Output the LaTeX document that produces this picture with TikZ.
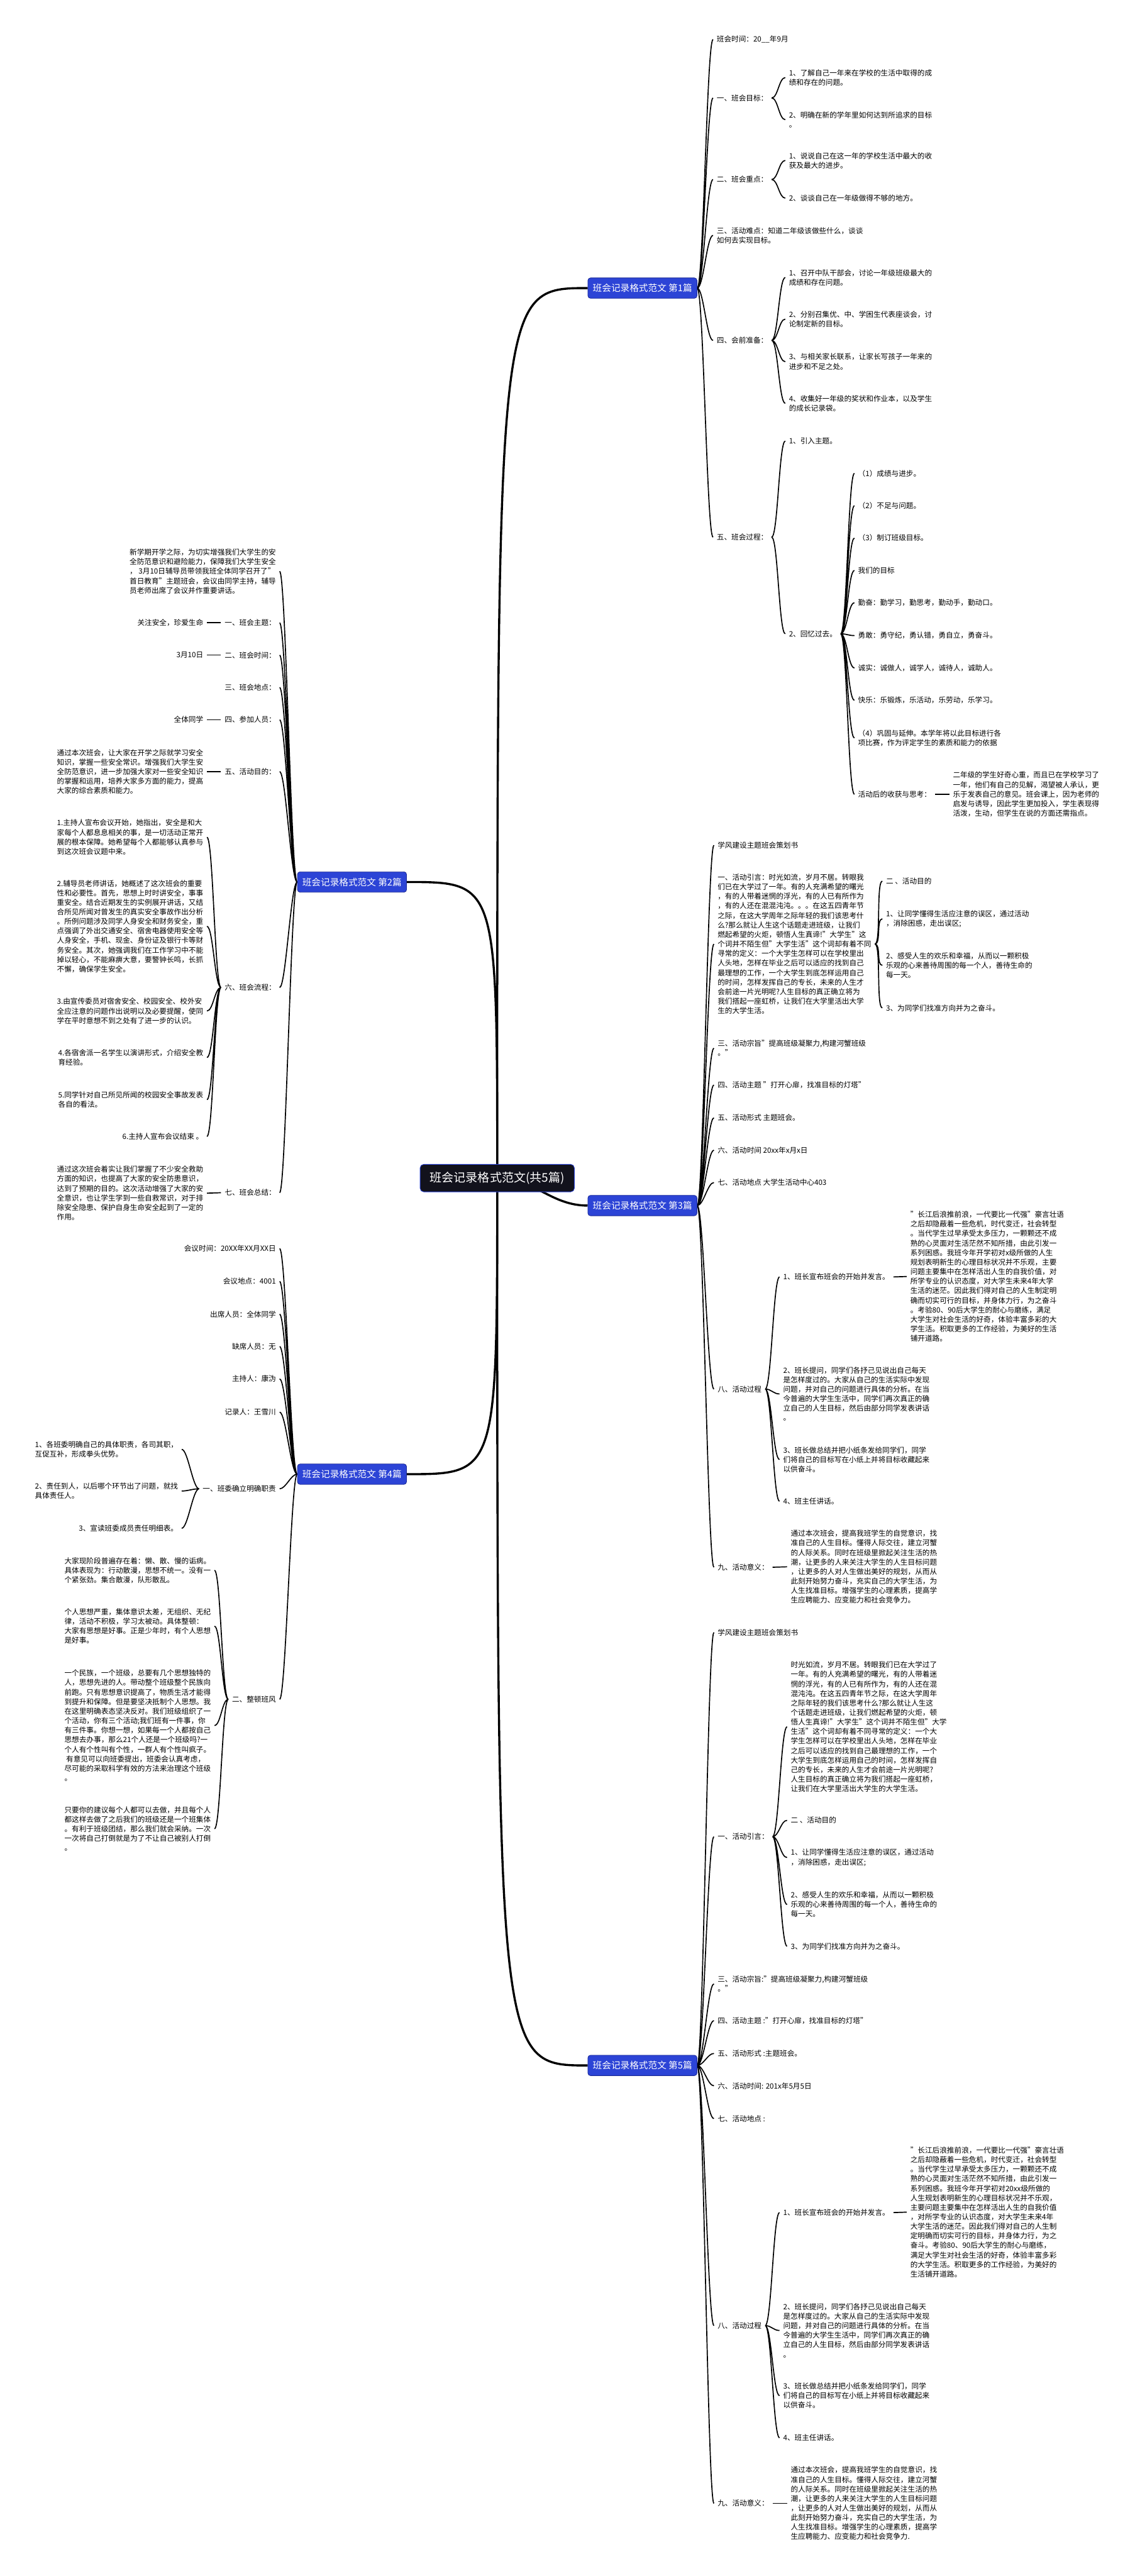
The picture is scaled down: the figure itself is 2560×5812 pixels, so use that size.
\documentclass[tikz,border=0pt]{standalone}
\usepackage{fontspec}
\setmainfont{Noto Sans CJK SC}
\usetikzlibrary{backgrounds}
\definecolor{topicblue}{RGB}{44,68,214}
\definecolor{topicedge}{RGB}{28,42,150}
\definecolor{rootfill}{RGB}{18,18,28}
\begin{document}
\begin{tikzpicture}[x=0.5pt, y=-0.5pt, line join=round, line cap=round,
  txt/.style={inner xsep=4pt, inner ysep=1pt, align=left, font=\fontsize{8.25}{10.75}\selectfont},
  rt/.style={txt, anchor=west},
  lt/.style={txt, anchor=east},
  topic/.style={fill=topicblue, draw=topicedge, line width=0.6pt, rounded corners=3pt, text=white,
    font=\fontsize{10.4}{12}\selectfont, inner xsep=5.5pt, minimum height=23pt},
  root/.style={fill=rootfill, draw=topicblue, line width=0.6pt, rounded corners=4pt, text=white,
    font=\fontsize{13.5}{15}\selectfont, minimum height=31pt, minimum width=174pt},
  trunk/.style={line width=2.4pt},
  br/.style={line width=1.2pt},
  rlink/.style={to path={.. controls ([xshift=7pt]\tikztostart) and ([xshift=-7pt]\tikztotarget) .. (\tikztotarget)}},
  llink/.style={to path={.. controls ([xshift=-7pt]\tikztostart) and ([xshift=7pt]\tikztotarget) .. (\tikztotarget)}}]
\useasboundingbox (0,0) rectangle (2560,5812);

\node[root] (root) at (1122,2658) {班会记录格式范文(共5篇)};

\node[topic, anchor=west] (b1) at (1326,650) {班会记录格式范文 第1篇};
\node[rt] (b1t) at (1609,89) {班会时间：20\_\_年9月};
\node[rt] (b1g) at (1609,221) {一、班会目标：};
\node[rt] (b1g1) at (1772,175) {1、了解自己一年来在学校的生活中取得的成\\绩和存在的问题。};
\node[rt] (b1g2) at (1772,270) {2、明确在新的学年里如何达到所追求的目标\\。};
\node[rt] (b1k) at (1609,405) {二、班会重点：};
\node[rt] (b1k1) at (1772,362) {1、说说自己在这一年的学校生活中最大的收\\获及最大的进步。};
\node[rt] (b1k2) at (1772,447) {2、谈谈自己在一年级做得不够的地方。};
\node[rt] (b1d) at (1609,531) {三、活动难点：知道二年级该做些什么，谈谈\\如何去实现目标。};
\node[rt] (b1p) at (1609,768) {四、会前准备：};
\node[rt] (b1p1) at (1772,626) {1、召开中队干部会，讨论一年级班级最大的\\成绩和存在问题。};
\node[rt] (b1p2) at (1772,720) {2、分别召集优、中、学困生代表座谈会，讨\\论制定新的目标。};
\node[rt] (b1p3) at (1772,816) {3、与相关家长联系，让家长写孩子一年来的\\进步和不足之处。};
\node[rt] (b1p4) at (1772,910) {4、收集好一年级的奖状和作业本，以及学生\\的成长记录袋。};
\node[rt] (b1c) at (1609,1212) {五、班会过程：};
\node[rt] (b1c1) at (1772,995) {1、引入主题。};
\node[rt] (b1c2) at (1772,1430) {2、回忆过去。};
\node[rt] (b1r1) at (1928,1068) {（1）成绩与进步。};
\node[rt] (b1r2) at (1928,1141) {（2）不足与问题。};
\node[rt] (b1r3) at (1928,1214) {（3）制订班级目标。};
\node[rt] (b1r4) at (1928,1287) {我们的目标};
\node[rt] (b1r5) at (1928,1360) {勤奋：勤学习，勤思考，勤动手，勤动口。};
\node[rt] (b1r6) at (1928,1434) {勇敢：勇守纪，勇认错，勇自立，勇奋斗。};
\node[rt] (b1r7) at (1928,1507) {诚实：诚做人，诚学人，诚待人，诚助人。};
\node[rt] (b1r8) at (1928,1580) {快乐：乐锻炼，乐活动，乐劳动，乐学习。};
\node[rt] (b1r9) at (1928,1665) {（4）巩固与延伸。本学年将以此目标进行各\\项比赛，作为评定学生的素质和能力的依据};
\node[rt] (b1s) at (1928,1792) {活动后的收获与思考：};
\node[rt] (b1s1) at (2142,1792) {二年级的学生好奇心重，而且已在学校学习了\\一年，他们有自己的见解，渴望被人承认，更\\乐于发表自己的意见。班会课上，因为老师的\\启发与诱导，因此学生更加投入，学生表现得\\活泼，生动，但学生在说的方面还需指点。};

\node[topic, anchor=west] (b3) at (1326,2720) {班会记录格式范文 第3篇};
\node[rt] (b3a) at (1611,1907) {学风建设主题班会策划书};
\node[rt] (b3b) at (1611,2130) {一、活动引言：时光如流，岁月不居。转眼我\\们已在大学过了一年。有的人充满希望的曙光\\，有的人带着迷惘的浮光，有的人已有所作为\\，有的人还在混混沌沌。。。在这五四青年节\\之际，在这大学周年之际年轻的我们该思考什\\么?那么就让人生这个话题走进班级，让我们\\燃起希望的火炬，顿悟人生真谛!"大学生"这\\个词并不陌生但"大学生活"这个词却有着不同\\寻常的定义：一个大学生怎样可以在学校里出\\人头地，怎样在毕业之后可以适应的找到自己\\最理想的工作，一个大学生到底怎样运用自己\\的时间，怎样发挥自己的专长，未来的人生才\\会前途一片光明呢?人生目标的真正确立将为\\我们搭起一座虹桥，让我们在大学里活出大学\\生的大学生活。};
\node[rt] (b3b1) at (1991,1988) {二 、活动目的};
\node[rt] (b3b2) at (1991,2073) {1、让同学懂得生活应注意的误区，通过活动\\，消除困惑，走出误区;};
\node[rt] (b3b3) at (1991,2178) {2、感受人生的欢乐和幸福，从而以一颗积极\\乐观的心来善待周围的每一个人，善待生命的\\每一天。};
\node[rt] (b3b4) at (1991,2274) {3、为同学们找准方向并为之奋斗。};
\node[rt] (b3c) at (1611,2365) {三、活动宗旨"提高班级凝聚力,构建河蟹班级\\。"};
\node[rt] (b3d) at (1611,2448) {四、活动主题 "打开心扉，找准目标的灯塔"};
\node[rt] (b3e) at (1611,2522) {五、活动形式 主题班会。};
\node[rt] (b3f) at (1611,2595) {六、活动时间 20xx年x月x日};
\node[rt] (b3g) at (1611,2668) {七、活动地点 大学生活动中心403};
\node[rt] (b3h) at (1611,3134) {八、活动过程};
\node[rt] (b3h1) at (1759,2881) {1、班长宣布班会的开始并发言。};
\node[rt] (b3h1a) at (2046,2880) {"长江后浪推前浪，一代要比一代强"豪言壮语\\之后却隐蔽着一些危机，时代变迁，社会转型\\。当代学生过早承受太多压力，一颗颗还不成\\熟的心灵面对生活茫然不知所措，由此引发一\\系列困惑。我班今年开学初对x级所做的人生\\规划表明新生的心理目标状况并不乐观，主要\\问题主要集中在怎样活出人生的自我价值，对\\所学专业的认识态度，对大学生未来4年大学\\生活的迷茫。因此我们得对自己的人生制定明\\确而切实可行的目标，并身体力行，为之奋斗\\。考验80、90后大学生的耐心与磨练，满足\\大学生对社会生活的好奇，体验丰富多彩的大\\学生活。积取更多的工作经验，为美好的生活\\铺开道路。};
\node[rt] (b3h2) at (1759,3145) {2、班长提问，同学们各抒己见说出自己每天\\是怎样度过的。大家从自己的生活实际中发现\\问题，并对自己的问题进行具体的分析。在当\\今普遍的大学生生活中，同学们再次真正的确\\立自己的人生目标，然后由部分同学发表讲话\\。};
\node[rt] (b3h3) at (1759,3293) {3、班长做总结并把小纸条发给同学们，同学\\们将自己的目标写在小纸上并将目标收藏起来\\以供奋斗。};
\node[rt] (b3h4) at (1759,3387) {4、班主任讲话。};
\node[rt] (b3i) at (1611,3536) {九、活动意义：};
\node[rt] (b3i1) at (1776,3535) {通过本次班会，提高我班学生的自觉意识，找\\准自己的人生目标。懂得人际交往，建立河蟹\\的人际关系。同时在班级里掀起关注生活的热\\潮，让更多的人来关注大学生的人生目标问题\\，让更多的人对人生做出美好的规划，从而从\\此刻开始努力奋斗，充实自己的大学生活，为\\人生找准目标。增强学生的心理素质，提高学\\生应聘能力、应变能力和社会竞争力。};

\node[topic, anchor=west] (b5) at (1326,4660) {班会记录格式范文 第5篇};
\node[rt] (b5a) at (1611,3683) {学风建设主题班会策划书};
\node[rt] (b5b) at (1611,4144) {一、活动引言：};
\node[rt] (b5b1) at (1776,3896) {时光如流，岁月不居。转眼我们已在大学过了\\一年。有的人充满希望的曙光，有的人带着迷\\惘的浮光，有的人已有所作为，有的人还在混\\混沌沌。在这五四青年节之际，在这大学周年\\之际年轻的我们该思考什么?那么就让人生这\\个话题走进班级，让我们燃起希望的火炬，顿\\悟人生真谛!"大学生"这个词并不陌生但"大学\\生活"这个词却有着不同寻常的定义：一个大\\学生怎样可以在学校里出人头地，怎样在毕业\\之后可以适应的找到自己最理想的工作，一个\\大学生到底怎样运用自己的时间，怎样发挥自\\己的专长，未来的人生才会前途一片光明呢?\\人生目标的真正确立将为我们搭起一座虹桥，\\让我们在大学里活出大学生的大学生活。};
\node[rt] (b5b2) at (1776,4107) {二 、活动目的};
\node[rt] (b5b3) at (1776,4191) {1、让同学懂得生活应注意的误区，通过活动\\，消除困惑，走出误区;};
\node[rt] (b5b4) at (1776,4297) {2、感受人生的欢乐和幸福，从而以一颗积极\\乐观的心来善待周围的每一个人，善待生命的\\每一天。};
\node[rt] (b5b5) at (1776,4391) {3、为同学们找准方向并为之奋斗。};
\node[rt] (b5c) at (1611,4476) {三、活动宗旨:"提高班级凝聚力,构建河蟹班级\\。"};
\node[rt] (b5d) at (1611,4559) {四、活动主题 :"打开心扉，找准目标的灯塔"};
\node[rt] (b5e) at (1611,4633) {五、活动形式 :主题班会。};
\node[rt] (b5f) at (1611,4706) {六、活动时间: 201x年5月5日};
\node[rt] (b5g) at (1611,4780) {七、活动地点 :};
\node[rt] (b5h) at (1611,5247) {八、活动过程};
\node[rt] (b5h1) at (1759,4992) {1、班长宣布班会的开始并发言。};
\node[rt] (b5h1a) at (2046,4991) {"长江后浪推前浪，一代要比一代强"豪言壮语\\之后却隐蔽着一些危机，时代变迁，社会转型\\。当代学生过早承受太多压力，一颗颗还不成\\熟的心灵面对生活茫然不知所措，由此引发一\\系列困惑。我班今年开学初对20xx级所做的\\人生规划表明新生的心理目标状况并不乐观，\\主要问题主要集中在怎样活出人生的自我价值\\，对所学专业的认识态度，对大学生未来4年\\大学生活的迷茫。因此我们得对自己的人生制\\定明确而切实可行的目标，并身体力行，为之\\奋斗。考验80、90后大学生的耐心与磨练，\\满足大学生对社会生活的好奇，体验丰富多彩\\的大学生活。积取更多的工作经验，为美好的\\生活铺开道路。};
\node[rt] (b5h2) at (1759,5258) {2、班长提问，同学们各抒己见说出自己每天\\是怎样度过的。大家从自己的生活实际中发现\\问题，并对自己的问题进行具体的分析。在当\\今普遍的大学生生活中，同学们再次真正的确\\立自己的人生目标，然后由部分同学发表讲话\\。};
\node[rt] (b5h3) at (1759,5405) {3、班长做总结并把小纸条发给同学们，同学\\们将自己的目标写在小纸上并将目标收藏起来\\以供奋斗。};
\node[rt] (b5h4) at (1759,5500) {4、班主任讲话。};
\node[rt] (b5i) at (1611,5648) {九、活动意义：};
\node[rt] (b5i1) at (1776,5648) {通过本次班会，提高我班学生的自觉意识，找\\准自己的人生目标。懂得人际交往，建立河蟹\\的人际关系。同时在班级里掀起关注生活的热\\潮，让更多的人来关注大学生的人生目标问题\\，让更多的人对人生做出美好的规划，从而从\\此刻开始努力奋斗，充实自己的大学生活，为\\人生找准目标。增强学生的心理素质，提高学\\生应聘能力、应变能力和社会竞争力.};

\node[topic, anchor=east] (b2) at (918,1990) {班会记录格式范文 第2篇};
\node[lt] (b2a) at (631,1289) {新学期开学之际，为切实增强我们大学生的安\\全防范意识和避险能力，保障我们大学生安全\\， 3月10日辅导员带领我班全体同学召开了"\\首日教育"主题班会，会议由同学主持，辅导\\员老师出席了会议并作重要讲话。};
\node[lt] (b2b) at (631,1405) {一、班会主题：};
\node[lt] (b2b1) at (467,1405) {关注安全，珍爱生命};
\node[lt] (b2c) at (631,1478) {二、班会时间：};
\node[lt] (b2c1) at (467,1478) {3月10日};
\node[lt] (b2d) at (631,1551) {三、班会地点：};
\node[lt] (b2e) at (631,1624) {四、参加人员：};
\node[lt] (b2e1) at (467,1624) {全体同学};
\node[lt] (b2f) at (631,1741) {五、活动目的：};
\node[lt] (b2f1) at (467,1741) {通过本次班会，让大家在开学之际就学习安全\\知识，掌握一些安全常识。增强我们大学生安\\全防范意识，进一步加强大家对一些安全知识\\的掌握和运用，培养大家多方面的能力，提高\\大家的综合素质和能力。};
\node[lt] (b2g) at (631,2228) {六、班会流程：};
\node[lt] (b2g1) at (467,1889) {1.主持人宣布会议开始，她指出，安全是和大\\家每个人都息息相关的事，是一切活动正常开\\展的根本保障。她希望每个人都能够认真参与\\到这次班会议题中来。};
\node[lt] (b2g2) at (467,2090) {2.辅导员老师讲话，她概述了这次班会的重要\\性和必要性。首先，思想上时时讲安全，事事\\重安全。结合近期发生的实例展开讲话，又结\\合所见所闻对曾发生的真实安全事故作出分析\\。所例问题涉及同学人身安全和财务安全，重\\点强调了外出交通安全、宿舍电器使用安全等\\人身安全，手机、现金、身份证及银行卡等财\\务安全。其次，她强调我们在工作学习中不能\\掉以轻心，不能麻痹大意，要警钟长鸣，长抓\\不懈，确保学生安全。};
\node[lt] (b2g3) at (467,2281) {3.由宣传委员对宿舍安全、校园安全、校外安\\全应注意的问题作出说明以及必要提醒，使同\\学在平时意想不到之处有了进一步的认识。};
\node[lt] (b2g4) at (467,2386) {4.各宿舍派一名学生以演讲形式，介绍安全教\\育经验。};
\node[lt] (b2g5) at (467,2481) {5.同学针对自己所见所闻的校园安全事故发表\\各自的看法。};
\node[lt] (b2g6) at (467,2564) {6.主持人宣布会议结束 。};
\node[lt] (b2h) at (631,2691) {七、班会总结：};
\node[lt] (b2h1) at (467,2692) {通过这次班会着实让我们掌握了不少安全救助\\方面的知识，也提高了大家的安全防患意识，\\达到了预期的目的。这次活动增强了大家的安\\全意识，也让学生学到一些自救常识，对于排\\除安全隐患、保护自身生命安全起到了一定的\\作用。};

\node[topic, anchor=east] (b4) at (918,3326) {班会记录格式范文 第4篇};
\node[lt] (b4a) at (631,2817) {会议时间：20XX年XX月XX日};
\node[lt] (b4b) at (631,2891) {会议地点：4001};
\node[lt] (b4c) at (631,2965) {出席人员：全体同学};
\node[lt] (b4d) at (631,3038) {缺席人员：无};
\node[lt] (b4e) at (631,3111) {主持人：康沩};
\node[lt] (b4f) at (631,3186) {记录人：王雪川};
\node[lt] (b4g) at (631,3359) {一、班委确立明确职责};
\node[lt] (b4g1) at (410,3270) {1、各班委明确自己的具体职责，各司其职，\\互促互补，形成拳头优势。};
\node[lt] (b4g2) at (410,3364) {2、责任到人，以后哪个环节出了问题，就找\\具体责任人。};
\node[lt] (b4g3) at (410,3448) {3、宣读班委成员责任明细表。};
\node[lt] (b4h) at (631,3834) {二、整顿班风};
\node[lt] (b4h1) at (484,3543) {大家现阶段普遍存在着：懒、散、慢的诟病。\\具体表现为：行动散漫，思想不统一。没有一\\个紧张劲。集合散漫，队形散乱。};
\node[lt] (b4h2) at (484,3669) {个人思想严重，集体意识太差，无组织、无纪\\律，活动不积极，学习太被动。具体整顿：\\大家有思想是好事。正是少年时，有个人思想\\是好事。};
\node[lt] (b4h3) at (484,3893) {一个民族，一个班级，总要有几个思想独特的\\人，思想先进的人。带动整个班级整个民族向\\前跑。只有思想意识提高了，物质生活才能得\\到提升和保障。但是要坚决抵制个人思想。我\\在这里明确表态坚决反对。我们班级组织了一\\个活动，你有三个活动;我们班有一件事，你\\有三件事。你想一想，如果每一个人都按自己\\思想去办事，那么21个人还是一个班级吗?一\\个人有个性叫有个性，一群人有个性叫疯子。\\\ 有意见可以向班委提出，班委会认真考虑，\\尽可能的采取科学有效的方法来治理这个班级\\。};
\node[lt] (b4h4) at (484,4126) {只要你的建议每个人都可以去做，并且每个人\\都这样去做了之后我们的班级还是一个班集体\\。有利于班级团结，那么我们就会采纳。一次\\一次将自己打倒就是为了不让自己被别人打倒\\。};

\begin{scope}[on background layer]
\fill[white] (0,0) rectangle (2560,5812);
\draw[trunk] (root.center) .. controls (root.center |- b1.west) .. (b1.west);
\draw[trunk] (root.center) .. controls (root.center |- b5.west) .. (b5.west);
\draw[trunk] (root.center) to[out=0, in=180] (b3.west);
\draw[trunk] (root.center) .. controls (root.center |- b2.east) .. (b2.east);
\draw[trunk] (root.center) .. controls (root.center |- b4.east) .. (b4.east);

\draw[br] (b1.east) to[rlink] (b1t.west) (b1.east) to[rlink] (b1g.west) (b1.east) to[rlink] (b1k.west)
  (b1.east) to[rlink] (b1d.west) (b1.east) to[rlink] (b1p.west) (b1.east) to[rlink] (b1c.west);
\draw[br] (b1g.east) to[rlink] (b1g1.west) (b1g.east) to[rlink] (b1g2.west);
\draw[br] (b1k.east) to[rlink] (b1k1.west) (b1k.east) to[rlink] (b1k2.west);
\draw[br] (b1p.east) to[rlink] (b1p1.west) (b1p.east) to[rlink] (b1p2.west)
  (b1p.east) to[rlink] (b1p3.west) (b1p.east) to[rlink] (b1p4.west);
\draw[br] (b1c.east) to[rlink] (b1c1.west) (b1c.east) to[rlink] (b1c2.west);
\draw[br] (b1c2.east) to[rlink] (b1r1.west) (b1c2.east) to[rlink] (b1r2.west) (b1c2.east) to[rlink] (b1r3.west)
  (b1c2.east) to[rlink] (b1r4.west) (b1c2.east) to[rlink] (b1r5.west) (b1c2.east) to[rlink] (b1r6.west)
  (b1c2.east) to[rlink] (b1r7.west) (b1c2.east) to[rlink] (b1r8.west) (b1c2.east) to[rlink] (b1r9.west)
  (b1c2.east) to[rlink] (b1s.west);
\draw[br] (b1s.east) -- (b1s1.west);

\draw[br] (b3.east) to[rlink] (b3a.west) (b3.east) to[rlink] (b3b.west) (b3.east) to[rlink] (b3c.west)
  (b3.east) to[rlink] (b3d.west) (b3.east) to[rlink] (b3e.west) (b3.east) to[rlink] (b3f.west)
  (b3.east) to[rlink] (b3g.west) (b3.east) to[rlink] (b3h.west) (b3.east) to[rlink] (b3i.west);
\draw[br] (b3b.east) to[rlink] (b3b1.west) (b3b.east) to[rlink] (b3b2.west)
  (b3b.east) to[rlink] (b3b3.west) (b3b.east) to[rlink] (b3b4.west);
\draw[br] (b3h.east) to[rlink] (b3h1.west) (b3h.east) to[rlink] (b3h2.west)
  (b3h.east) to[rlink] (b3h3.west) (b3h.east) to[rlink] (b3h4.west);
\draw[br] (b3h1.east) -- (b3h1a.west);
\draw[br] (b3i.east) -- (b3i1.west);

\draw[br] (b5.east) to[rlink] (b5a.west) (b5.east) to[rlink] (b5b.west) (b5.east) to[rlink] (b5c.west)
  (b5.east) to[rlink] (b5d.west) (b5.east) to[rlink] (b5e.west) (b5.east) to[rlink] (b5f.west)
  (b5.east) to[rlink] (b5g.west) (b5.east) to[rlink] (b5h.west) (b5.east) to[rlink] (b5i.west);
\draw[br] (b5b.east) to[rlink] (b5b1.west) (b5b.east) to[rlink] (b5b2.west) (b5b.east) to[rlink] (b5b3.west)
  (b5b.east) to[rlink] (b5b4.west) (b5b.east) to[rlink] (b5b5.west);
\draw[br] (b5h.east) to[rlink] (b5h1.west) (b5h.east) to[rlink] (b5h2.west)
  (b5h.east) to[rlink] (b5h3.west) (b5h.east) to[rlink] (b5h4.west);
\draw[br] (b5h1.east) -- (b5h1a.west);
\draw[br] (b5i.east) -- (b5i1.west);

\draw[br] (b2.west) to[llink] (b2a.east) (b2.west) to[llink] (b2b.east) (b2.west) to[llink] (b2c.east)
  (b2.west) to[llink] (b2d.east) (b2.west) to[llink] (b2e.east) (b2.west) to[llink] (b2f.east)
  (b2.west) to[llink] (b2g.east) (b2.west) to[llink] (b2h.east);
\draw[br] (b2b.west) -- (b2b1.east);
\draw[br] (b2c.west) -- (b2c1.east);
\draw[br] (b2e.west) -- (b2e1.east);
\draw[br] (b2f.west) -- (b2f1.east);
\draw[br] (b2g.west) to[llink] (b2g1.east) (b2g.west) to[llink] (b2g2.east) (b2g.west) to[llink] (b2g3.east)
  (b2g.west) to[llink] (b2g4.east) (b2g.west) to[llink] (b2g5.east) (b2g.west) to[llink] (b2g6.east);
\draw[br] (b2h.west) -- (b2h1.east);

\draw[br] (b4.west) to[llink] (b4a.east) (b4.west) to[llink] (b4b.east) (b4.west) to[llink] (b4c.east)
  (b4.west) to[llink] (b4d.east) (b4.west) to[llink] (b4e.east) (b4.west) to[llink] (b4f.east)
  (b4.west) to[llink] (b4g.east) (b4.west) to[llink] (b4h.east);
\draw[br] (b4g.west) to[llink] (b4g1.east) (b4g.west) to[llink] (b4g2.east) (b4g.west) to[llink] (b4g3.east);
\draw[br] (b4h.west) to[llink] (b4h1.east) (b4h.west) to[llink] (b4h2.east)
  (b4h.west) to[llink] (b4h3.east) (b4h.west) to[llink] (b4h4.east);
\end{scope}
\end{tikzpicture}
\end{document}
